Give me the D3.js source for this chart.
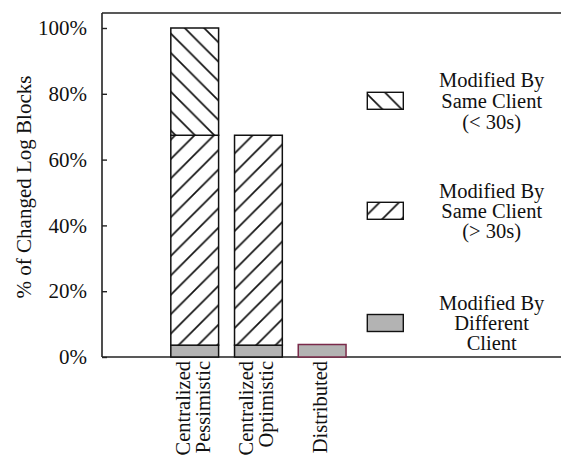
<!DOCTYPE html>
<html>
<head>
<meta charset="utf-8">
<script src="https://cdn.jsdelivr.net/npm/d3@7"></script>
<style>
  html, body { margin: 0; padding: 0; background: #fff; }
  svg { display: block; }
</style>
</head>
<body>
<svg id="chart" width="561" height="455"></svg>
<script>
const categories = [["Centralized", "Pessimistic"], ["Centralized", "Optimistic"], ["Distributed"]];
const diffClient = [3.6, 3.6, 3.8];
const sameGt30 = [63.8, 63.8, 0];
const sameLt30 = [32.6, 0, 0];
const yTicks = [0, 20, 40, 60, 80, 100];
const legendItems = [
  { key: "lt30", lines: ["Modified By", "Same Client", "(< 30s)"] },
  { key: "gt30", lines: ["Modified By", "Same Client", "(> 30s)"] },
  { key: "diff", lines: ["Modified By", "Different", "Client"] }
];

const FONT = "Liberation Serif";
const svg = d3.select("#chart");
const W = 561;
const plotLeft = 102, plotTop = 13, plotBottom = 357;

const y = d3.scaleLinear().domain([0, 100]).range([357, 28]);
const x = d3.scaleBand().domain(d3.range(categories.length))
  .range([162.85, 354.0]).paddingInner(0.25).paddingOuter(0.125);

// patterns
const defs = svg.append("defs");
const P = 19.4;
const pBack = defs.append("pattern").attr("id", "hatchBack")
  .attr("patternUnits", "userSpaceOnUse").attr("width", P).attr("height", P)
  .attr("x", 1.5).attr("y", 0);
pBack.append("rect").attr("width", P).attr("height", P).attr("fill", "#fff");
pBack.append("path").attr("d", `M${-P/2},${-P/2}L${P*1.5},${P*1.5}M${-P/2},${P/2}L${P/2},${P*1.5}M${P/2},${-P/2}L${P*1.5},${P/2}`)
  .attr("stroke", "#111").attr("stroke-width", 1.7);
const pFwd = defs.append("pattern").attr("id", "hatchFwd")
  .attr("patternUnits", "userSpaceOnUse").attr("width", P).attr("height", P)
  .attr("x", 0).attr("y", 0);
pFwd.append("rect").attr("width", P).attr("height", P).attr("fill", "#fff");
pFwd.append("path").attr("d", `M${-P/2},${P*1.5}L${P*1.5},${-P/2}M${-P/2},${P/2}L${P/2},${-P/2}M${P/2},${P*1.5}L${P*1.5},${P/2}`)
  .attr("stroke", "#111").attr("stroke-width", 1.7);

const fills = { lt30: "url(#hatchBack)", gt30: "url(#hatchFwd)", diff: "#b3b3b3" };

// frame lines
svg.append("line").attr("x1", plotLeft).attr("x2", W).attr("y1", plotTop).attr("y2", plotTop)
  .attr("stroke", "#222").attr("stroke-width", 1.6);
svg.append("line").attr("x1", plotLeft).attr("x2", W).attr("y1", plotBottom).attr("y2", plotBottom)
  .attr("stroke", "#222").attr("stroke-width", 1.6);

// y axis
const yAxis = d3.axisLeft(y).tickValues(yTicks).tickFormat(d => d + "%").tickSizeInner(-5).tickSizeOuter(0).tickPadding(15);
const gy = svg.append("g").attr("transform", `translate(${plotLeft},0)`).call(yAxis)
  .attr("font-family", FONT).attr("font-size", 21);
gy.select(".domain").attr("d", `M0,${plotTop}V${plotBottom}`).attr("stroke", "#222").attr("stroke-width", 1.6);
gy.selectAll(".tick line").attr("stroke", "#222").attr("stroke-width", 1.4);
gy.selectAll(".tick text").attr("font-family", FONT).attr("font-size", 21).attr("fill", "#111");

svg.append("text").attr("transform", `translate(31,187) rotate(-90)`)
  .attr("text-anchor", "middle").attr("font-family", FONT).attr("font-size", 21)
  .attr("fill", "#111").text("% of Changed Log Blocks");

// bars
const stacks = categories.map((c, i) => {
  const segs = [];
  let base = 0;
  [["diff", diffClient[i]], ["gt30", sameGt30[i]], ["lt30", sameLt30[i]]].forEach(([k, v]) => {
    if (v > 0) { segs.push({ k, y0: base, y1: base + v, i }); base += v; }
  });
  return segs;
});
svg.append("g").selectAll("g").data(stacks).join("g")
  .selectAll("rect").data(d => d).join("rect")
  .attr("x", d => x(d.i))
  .attr("width", x.bandwidth())
  .attr("y", d => y(d.y1))
  .attr("height", d => y(d.y0) - y(d.y1))
  .attr("fill", d => fills[d.k])
  .attr("stroke", d => d.i === 2 ? "#7a2a4a" : "#111")
  .attr("stroke-width", 1.5);

// x labels
const lineGap = 20;
categories.forEach((lines, i) => {
  const cx = x(i) + x.bandwidth() / 2;
  const n = lines.length;
  lines.forEach((t, j) => {
    const off = (j - (n - 1) / 2) * lineGap - 2;
    svg.append("text")
      .attr("transform", `translate(${cx + off + 7},${361}) rotate(-90)`)
      .attr("text-anchor", "end").attr("font-family", FONT).attr("font-size", 20.5)
      .attr("fill", "#111").text(t);
  });
});

// legend
const legY = [100.8, 210.8, 323];
const legG = svg.append("g");
legendItems.forEach((it, i) => {
  legG.append("rect").attr("x", 367.3).attr("y", legY[i] - 8.5).attr("width", 36).attr("height", 17)
    .attr("fill", fills[it.key]).attr("stroke", "#111").attr("stroke-width", 1.4);
  const gap = i === 0 ? 21 : 20;
  it.lines.forEach((t, j) => {
    legG.append("text").attr("x", 491.7).attr("y", legY[i] + (j - 1) * gap + 7)
      .attr("text-anchor", "middle").attr("font-family", FONT).attr("font-size", 20.5)
      .attr("fill", "#111").text(t);
  });
});
</script>
</body>
</html>
